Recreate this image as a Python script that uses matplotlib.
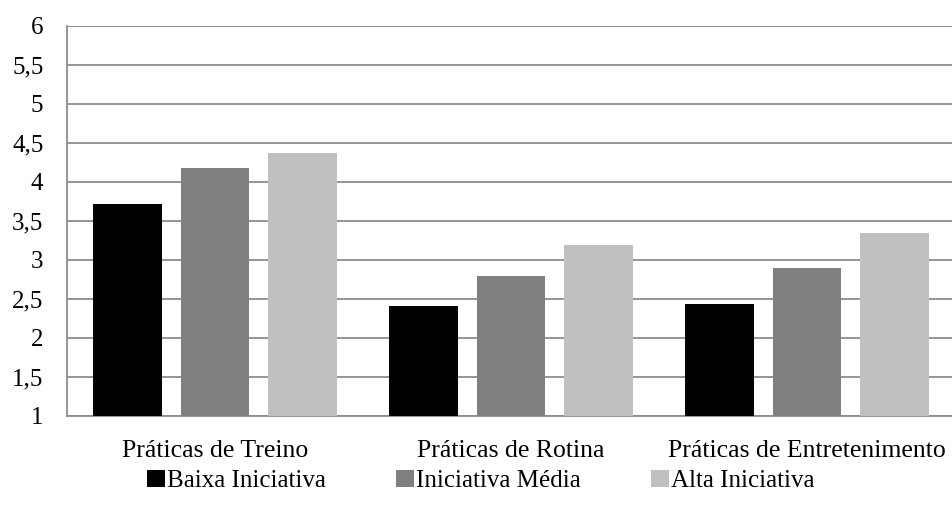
import matplotlib.pyplot as plt
import numpy as np

categories = ["Práticas de Treino", "Práticas de Rotina", "Práticas de Entretenimento"]
series_names = ["Baixa Iniciativa", "Iniciativa Média", "Alta Iniciativa"]
baixa = [3.72, 2.41, 2.44]
media = [4.18, 2.80, 2.90]
alta = [4.37, 3.19, 3.35]
y_ticks = [1, 1.5, 2, 2.5, 3, 3.5, 4, 4.5, 5, 5.5, 6]
colors = ["#000000", "#808080", "#c0c0c0"]

plt.rcParams['font.family'] = ['Liberation Serif', 'DejaVu Serif']

fig = plt.figure(figsize=(9.52, 5.13), dpi=100)
ax = fig.add_axes([67 / 952, 1 - 416 / 513, (955 - 67) / 952, (416 - 26) / 513])

x = np.arange(len(categories))
width = 0.233
offset = 0.294
for i, (vals, name) in enumerate(zip([baixa, media, alta], series_names)):
    ax.bar(x + (i - 1) * offset, np.array(vals) - 1, bottom=1, width=width,
           color=colors[i], label=name, zorder=3)

ax.set_xlim(-0.5, len(categories) - 0.5)
ax.set_ylim(1, 6)
ax.set_yticks(y_ticks)
ax.set_yticklabels([f"{v:g}".replace(".", ",") for v in y_ticks], fontsize=18)
ax.set_xticks(x)
ax.set_xticklabels(categories, fontsize=18.5)
ax.tick_params(length=0, pad=17)
ax.tick_params(axis='x', pad=17)

ax.grid(axis='y', color='#8c8c8c', linewidth=1.3, zorder=0)
for side in ['top', 'right']:
    ax.spines[side].set_visible(False)
for side in ['left', 'bottom']:
    ax.spines[side].set_color('#8c8c8c')
    ax.spines[side].set_linewidth(1.3)

fig.legend(loc='center', bbox_to_anchor=(481 / 952, 1 - 481 / 513), ncol=3,
           frameon=False, fontsize=18, handlelength=0.7, handleheight=0.7,
           handletextpad=0.1, columnspacing=2.8)

fig.savefig("out.png", dpi=100)
